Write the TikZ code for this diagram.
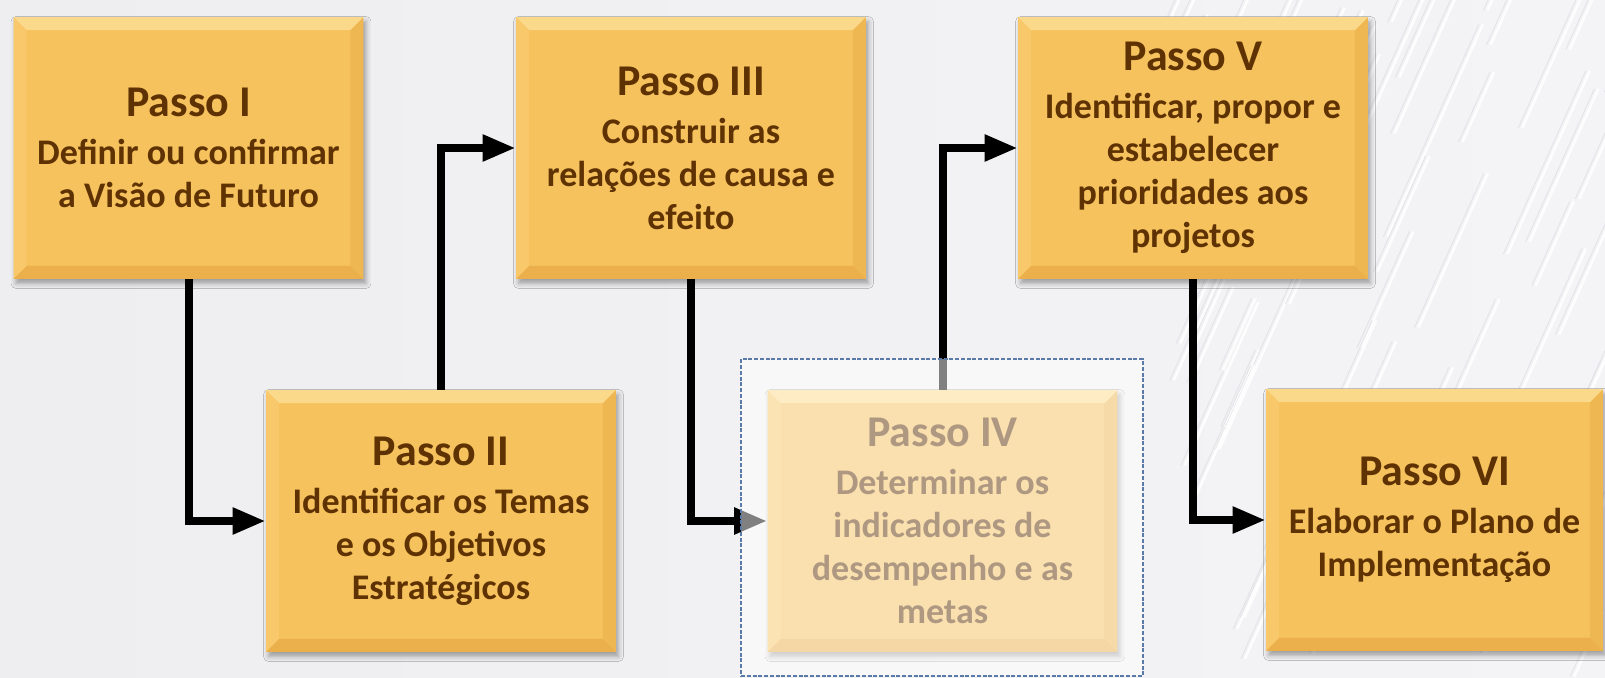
\documentclass[tikz,border=0pt]{standalone}
\usepackage{fontspec}
\setmainfont{Carlito}
\usetikzlibrary{arrows.meta,shadows.blur}
\definecolor{txt}{HTML}{5E3203}
\definecolor{boxc}{HTML}{F6C25E}
\definecolor{bevT}{HTML}{FBD98A}
\definecolor{bevL}{HTML}{F8C86A}
\definecolor{bevR}{HTML}{EEB752}
\definecolor{bevB}{HTML}{EBB04C}
\definecolor{dashc}{HTML}{5A7AAA}
\definecolor{bgl}{HTML}{EEEEF0}
\definecolor{bgr}{HTML}{F4F4F6}
\definecolor{streak}{HTML}{DEDEE3}
\tikzset{
  stepbox/.style={rectangle, minimum width=7cm, minimum height=5.24cm, inner sep=0pt,
    fill=boxc, text=txt, align=center,
    font=\bfseries\fontsize{20.5}{24.4}\selectfont,
    blur shadow={shadow xshift=0.05cm, shadow yshift=-0.09cm, shadow blur radius=0.1cm, shadow opacity=35},
    path picture={
      \path (path picture bounding box.north west) coordinate (pNW)
            (path picture bounding box.north east) coordinate (pNE)
            (path picture bounding box.south west) coordinate (pSW)
            (path picture bounding box.south east) coordinate (pSE);
      \fill[fill=bevL] (pNW) -- ([shift={(0.26cm,-0.26cm)}]pNW) -- ([shift={(0.26cm,0.26cm)}]pSW) -- (pSW) -- cycle;
      \fill[fill=bevR] (pNE) -- ([shift={(-0.26cm,-0.26cm)}]pNE) -- ([shift={(-0.26cm,0.26cm)}]pSE) -- (pSE) -- cycle;
      \fill[fill=bevT] (pNW) -- (pNE) -- ([shift={(-0.26cm,-0.26cm)}]pNE) -- ([shift={(0.26cm,-0.26cm)}]pNW) -- cycle;
      \fill[fill=bevB] (pSW) -- (pSE) -- ([shift={(-0.26cm,0.26cm)}]pSE) -- ([shift={(0.26cm,0.26cm)}]pSW) -- cycle;
    }},
  conn/.style={line width=0.16cm, draw=black,
    -{Triangle[length=0.66cm, width=0.5cm]}},
  fadebox/.style={rectangle, inner sep=0pt, fill=white, fill opacity=0.5,
    draw=dashc, draw opacity=1, dash pattern=on 0.08cm off 0.035cm, line width=0.04cm},
}
\newcommand\ttl[1]{{\fontsize{25}{24.4}\selectfont #1}}
\begin{document}
\begin{tikzpicture}[x=0.02cm,y=-0.02cm]
\useasboundingbox (0,0) rectangle (1605,678);
\clip (0,0) rectangle (1605,678);
\shade[left color=bgl, right color=bgr] (0,0) rectangle (1605,678);
\pgfmathsetseed{7}
\foreach \i in {0,...,70} {
  \pgfmathsetmacro{\xx}{1150+rnd*520}
  \pgfmathsetmacro{\yy}{rnd*678}
  \pgfmathsetmacro{\ll}{60+rnd*160}
  \draw[streak, line width=0.02cm, opacity=0.7] (\xx,\yy) -- ++(0.45*\ll,-\ll);
  \draw[white, line width=0.05cm, opacity=0.9] (\xx+4,\yy) -- ++(0.45*\ll,-\ll);
}

\node[stepbox] (b1) at (188.5,148) {\ttl{Passo I}\\[3pt]Definir ou confirmar\\a Visão de Futuro};
\node[stepbox] (b2) at (441,521) {\ttl{Passo II}\\[3pt]Identificar os Temas\\e os Objetivos\\Estratégicos};
\node[stepbox] (b3) at (691,148) {\ttl{Passo III}\\[3pt]Construir as\\relações de causa e\\efeito};
\node[stepbox] (b4) at (942.5,521) {\ttl{Passo IV}\\[3pt]Determinar os\\indicadores de\\desempenho e as\\metas};
\node[stepbox] (b5) at (1193,148) {\ttl{Passo V}\\[3pt]Identificar, propor e\\estabelecer\\prioridades aos\\projetos};
\node[stepbox, minimum width=6.74cm] (b6) at (1434.5,520) {\ttl{Passo VI}\\[3pt]Elaborar o Plano de\\Implementação};

\draw[conn] (b1.south) |- (b2.west);
\draw[conn] (b2.north) |- (b3.west);
\draw[conn] (b3.south) |- (b4.west);
\draw[conn] (b4.north) |- (b5.west);
\draw[conn] (b5.south) |- (b6.west);

\node[fadebox, minimum width=8.04cm, minimum height=6.34cm] (hl) at (942,517.5) {};
\end{tikzpicture}
\end{document}
